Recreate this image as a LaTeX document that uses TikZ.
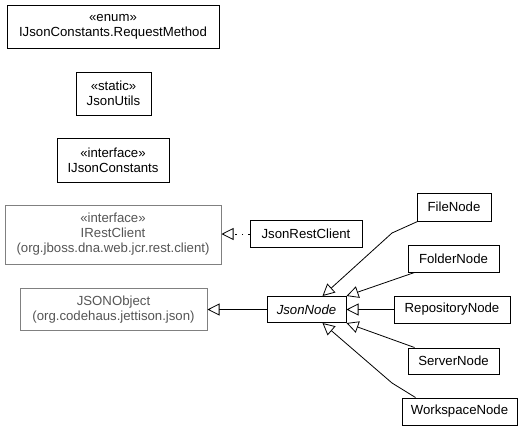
\documentclass[tikz,border=0pt]{standalone}
\usepackage{fontspec}
\setmainfont{Liberation Sans}
\usetikzlibrary{arrows.meta}
\definecolor{grayline}{HTML}{808080}
\definecolor{graytext}{HTML}{555555}
\begin{document}
\begin{tikzpicture}[x=1pt,y=-1pt,
  cls/.style={draw=black, line width=1pt, fill=white, inner sep=0pt, align=center,
    font=\fontsize{13.2}{15}\selectfont},
  ext/.style={cls, draw=grayline, line width=1pt, text=graytext},
  gen/.style={-{Triangle[open, length=12pt, width=12pt, fill=white]}, line width=0.8pt},
  real/.style={gen, dash pattern=on 1.5pt off 5pt}]
\useasboundingbox (0,0) rectangle (523,429);
\node[cls, minimum width=212pt, minimum height=43pt] (RM) at (113,26.5) {«enum»\\IJsonConstants.RequestMethod};
\node[cls, minimum width=75pt, minimum height=43pt] (JU) at (113.5,93.5) {«static»\\JsonUtils};
\node[cls, minimum width=112pt, minimum height=44pt] (IJC) at (113,160) {«interface»\\IJsonConstants};
\node[ext, minimum width=216pt, minimum height=59pt] (IRC) at (113,234.5) {«interface»\\IRestClient\\(org.jboss.dna.web.jcr.rest.client)};
\node[ext, minimum width=187pt, minimum height=42pt] (JO) at (113.5,309.5) {JSONObject\\(org.codehaus.jettison.json)};
\node[cls, minimum width=112pt, minimum height=27pt] (JRC) at (306,234) {JsonRestClient};
\node[cls, minimum width=79pt, minimum height=26pt] (JN) at (306.5,309.5) {\itshape JsonNode};
\node[cls, minimum width=74pt, minimum height=28pt] (FN) at (454,207) {FileNode};
\node[cls, minimum width=91pt, minimum height=27pt] (FoN) at (453.5,258.5) {FolderNode};
\node[cls, minimum width=116pt, minimum height=27pt] (RN) at (452,309.5) {RepositoryNode};
\node[cls, minimum width=91pt, minimum height=26pt] (SN) at (453.5,361) {ServerNode};
\node[cls, minimum width=115pt, minimum height=27pt] (WN) at (459.5,411.5) {WorkspaceNode};
\draw[real] (JRC.west) -- (IRC.east |- JRC.west);
\draw[gen] (JN.west) -- (JO.east);
\draw[gen] ([xshift=1pt]FN.south west) -- (392,233) -- ([xshift=16pt]JN.north);
\draw[gen] ([xshift=7pt]FoN.south west) -- (JN.north east);
\draw[gen] (RN.west) -- (JN.east);
\draw[gen] ([xshift=7pt]SN.north west) -- (JN.south east);
\draw[gen] ([xshift=14pt]WN.north west) -- (392,383) -- ([xshift=16pt]JN.south);
\end{tikzpicture}
\end{document}
